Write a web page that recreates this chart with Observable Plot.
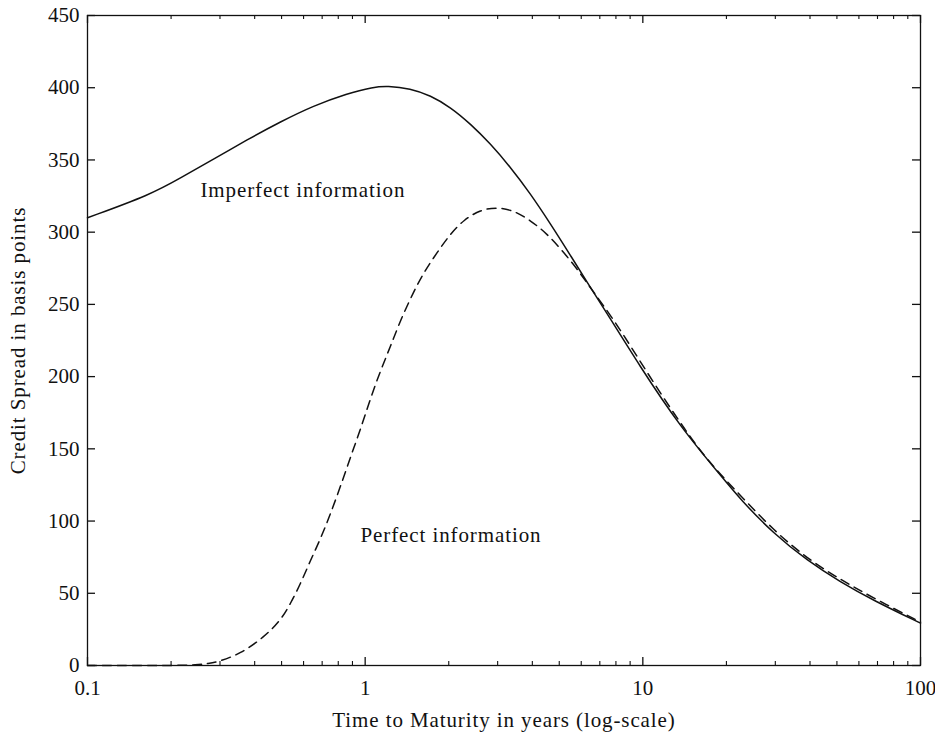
<!DOCTYPE html>
<html>
<head>
<meta charset="utf-8">
<script src="https://cdn.jsdelivr.net/npm/d3@7"></script>
<script src="https://cdn.jsdelivr.net/npm/@observablehq/plot@0.6"></script>
<style>
  html, body { margin: 0; padding: 0; background: #fff; }
</style>
</head>
<body>
<div id="chart"></div>
<script>
// Imperfect information (solid)
const imperfectT = [0.1, 0.169, 0.216, 0.284, 0.376, 0.496, 0.651, 0.861, 1.07, 1.2, 1.456, 1.718, 2.03, 2.394, 2.826, 3.336, 3.94, 4.65, 5.49, 6.48, 7.04, 9.8, 13.66, 19.56, 22.46, 29.6, 39.1, 51.5, 67.8, 100];
const imperfectV = [310, 326, 337.5, 350.5, 364, 376.5, 387.5, 396, 400.5, 401.3, 399.5, 394.6, 386.5, 375, 361.2, 345, 326.6, 305.8, 283.9, 261.5, 251, 206.5, 165, 129, 115, 91.2, 72.7, 57.7, 45, 29.3];

// Perfect information (dashed)
const perfectT = [0.1, 0.2, 0.25, 0.27, 0.293, 0.356, 0.432, 0.496, 0.538, 0.585, 0.635, 0.69, 0.75, 0.815, 0.885, 0.962, 1.045, 1.136, 1.234, 1.34, 1.496, 1.626, 1.816, 2.03, 2.265, 2.6, 2.99, 3.43, 3.94, 4.52, 5.12, 5.8, 6.5, 7.86, 9.53, 11.57, 14.04, 17.05, 22.46, 29.6, 39.1, 52, 68, 100];
const perfectV = [0, 0, 0.3, 1.4, 2.3, 8.1, 19.6, 31.2, 42.7, 56.6, 72.7, 87.5, 105, 124, 144.2, 163.5, 185, 204.2, 221, 239, 259, 272, 286, 299, 308.5, 315.5, 317.3, 315, 308.1, 298.9, 287.3, 274.6, 261, 239.5, 214, 188.5, 164.5, 142, 117.7, 93.5, 74, 59, 46.5, 30];

// Axes ticks
const xMajorTicks = [0.1, 1, 10, 100];
const xTickLabels = ["0.1", "1", "10", "100"];
const xMinorTicks = [0.2, 0.3, 0.4, 0.5, 0.6, 0.7, 0.8, 0.9, 2, 3, 4, 5, 6, 7, 8, 9, 20, 30, 40, 50, 60, 70, 80, 90];
const yTicks = [0, 50, 100, 150, 200, 250, 300, 350, 400, 450];

// Labels
const xLabel = "Time to Maturity in years (log-scale)";
const yLabel = "Credit Spread in basis points";
const annotations = [
  {t: 0.255, v: 329, text: "Imperfect information"},
  {t: 0.962, v: 90, text: "Perfect information"}
];

const imperfect = imperfectT.map((t, i) => ({t, v: imperfectV[i]}));
const perfect = perfectT.map((t, i) => ({t, v: perfectV[i]}));

const W = 935, H = 738, mL = 87, mR = 15, mT = 15, mB = 73;
const pw = W - mL - mR, ph = H - mT - mB;
const major = 8, minor = 4;
const FS = 21;

const chart = Plot.plot({
  width: W,
  height: H,
  marginLeft: mL,
  marginRight: mR,
  marginTop: mT,
  marginBottom: mB,
  style: {fontFamily: "'Liberation Serif', 'DejaVu Serif', serif", fontSize: FS + "px", color: "#111", background: "#fff"},
  x: {type: "log", domain: [0.1, 100]},
  y: {domain: [0, 450]},
  marks: [
    Plot.axisX({ticks: xMajorTicks, tickFormat: d => xTickLabels[xMajorTicks.indexOf(d)], tickSize: 0, tickPadding: 15, label: null, fontSize: FS}),
    Plot.axisY({ticks: yTicks, tickSize: 0, tickPadding: 8, label: null, fontSize: FS}),
    // inward tick marks
    Plot.tickY(yTicks, {y: d => d, insetRight: pw - major, strokeWidth: 1.3}),
    Plot.tickY(yTicks, {y: d => d, insetLeft: pw - major, strokeWidth: 1.3}),
    Plot.tickX(xMajorTicks, {x: d => d, insetTop: ph - major, strokeWidth: 1.3}),
    Plot.tickX(xMajorTicks, {x: d => d, insetBottom: ph - major, strokeWidth: 1.3}),
    Plot.tickX(xMinorTicks, {x: d => d, insetTop: ph - minor, strokeWidth: 1.1}),
    Plot.tickX(xMinorTicks, {x: d => d, insetBottom: ph - minor, strokeWidth: 1.1}),
    Plot.lineY(perfect, {x: "t", y: "v", stroke: "#111", strokeWidth: 1.5, strokeDasharray: "9,6", curve: "basis"}),
    Plot.lineY(imperfect, {x: "t", y: "v", stroke: "#111", strokeWidth: 1.5, curve: "basis"}),
    Plot.text(annotations, {x: "t", y: "v", text: "text", textAnchor: "start", fontSize: FS, fill: "#111"}),
    Plot.text([xLabel], {frameAnchor: "bottom", lineAnchor: "middle", textAnchor: "middle", dy: 55, fontSize: FS, fill: "#111"}),
    Plot.text([yLabel], {frameAnchor: "left", lineAnchor: "middle", textAnchor: "middle", dx: -69, rotate: -90, fontSize: FS, fill: "#111"}),
    Plot.frame({stroke: "#111", strokeWidth: 1.3})
  ]
});
// wider letter spacing to mimic Computer Modern proportions for the prose labels
d3.select(chart).selectAll("g[aria-label='text'] text").style("letter-spacing", "0.9px");
document.getElementById("chart").appendChild(chart);
</script>
</body>
</html>
